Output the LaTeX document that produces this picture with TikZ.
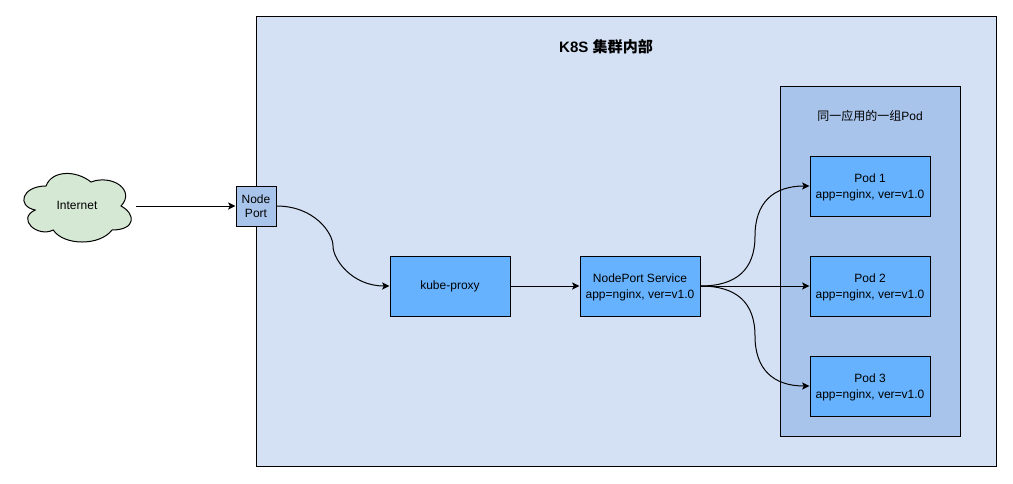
\documentclass[tikz,border=0pt]{standalone}
\usepackage{fontspec}
\setmainfont{Liberation Sans}
\newfontfamily\cjk{Noto Sans CJK SC}
\usetikzlibrary{arrows.meta}
\definecolor{cluster}{HTML}{D4E1F5}
\definecolor{group}{HTML}{A9C4EB}
\definecolor{pod}{HTML}{66B2FF}
\definecolor{cloudgreen}{HTML}{D5E8D4}
\tikzset{
  >={Stealth[length=5.5pt,width=5.25pt,inset=1.2pt]},
  frame/.style={draw=black,line width=0.75pt,fill=#1,inner sep=0pt,align=center,font=\fontsize{9}{12}\selectfont},
  frame/.default=pod,
  box/.style={frame=pod,minimum width=90pt,minimum height=45pt},
  flow/.style={->,line width=0.75pt},
  tag/.style={font=\fontsize{9}{12}\selectfont,align=center,inner sep=0pt},
}
\newcommand{\toppad}{\rule{0pt}{8.1pt}}
\begin{document}
\begin{tikzpicture}[x=0.75pt,y=-0.75pt]
    \useasboundingbox (0,0) rectangle (1013,483);
    % containers
    \node[frame=cluster,minimum width=555pt,minimum height=337.5pt] (cluster) at (626,241) {};
    \node[frame=group,minimum width=135pt,minimum height=262.5pt] (group) at (870,261) {};
    \node[tag,font=\fontsize{11.3}{12}\selectfont\bfseries] (title) at (606,46.5) {K8S {\cjk 集群内部}};
    \node[tag] (grouptitle) at (870,116) {{\cjk 同一应用的一组}Pod};
    % left side
    \begin{scope}[shift={(16,166)},x=90pt,y=-60pt]
      \draw[line width=0.75pt,fill=cloudgreen] (.25,.25) .. controls (.05,.25) and (0,.5) .. (.16,.55)
        .. controls (0,.66) and (.18,.9) .. (.31,.8) .. controls (.4,1) and (.7,1) .. (.8,.8)
        .. controls (1,.8) and (1,.6) .. (.875,.5) .. controls (1,.3) and (.8,.1) .. (.625,.2)
        .. controls (.5,.05) and (.3,.05) .. (.25,.25) -- cycle;
    \end{scope}
    \node[tag,minimum width=90pt,minimum height=60pt] (internet) at (76,205.5) {\hspace{1.5pt}Internet};
    \node[frame=group,minimum width=30pt,minimum height=30pt] (nodeport) at (256,206) {Node\\[-1.5pt]Port};
    % chain
    \node[box] (kubeproxy) at (450,286) {kube-proxy};
    \node[box] (service) at (640,286) {\toppad NodePort Service\\app=nginx, ver=v1.0};
    \foreach \n/\y in {1/186,2/286,3/386}
      \node[box] (pod\n) at (870,\y) {\toppad Pod \n\\app=nginx, ver=v1.0};
    % connectors
    \draw[flow] (internet.east |- nodeport.west) -- (nodeport.west);
    \draw[flow] (nodeport.east) .. controls (314,206) and (333,232.7) .. (333,246)
      .. controls (333,259.3) and (352,286) .. (kubeproxy.west);
    \draw[flow] (kubeproxy.east) -- (service.west);
    \draw[flow] (service.east) .. controls (736.7,286) and (755,269.3) .. (755,236)
      .. controls (755,202.7) and (773.3,186) .. (pod1.west);
    \draw[flow] (service.east) -- (pod2.west);
    \draw[flow] (service.east) .. controls (736.7,286) and (755,302.7) .. (755,336)
      .. controls (755,369.3) and (773.3,386) .. (pod3.west);
\end{tikzpicture}
\end{document}
